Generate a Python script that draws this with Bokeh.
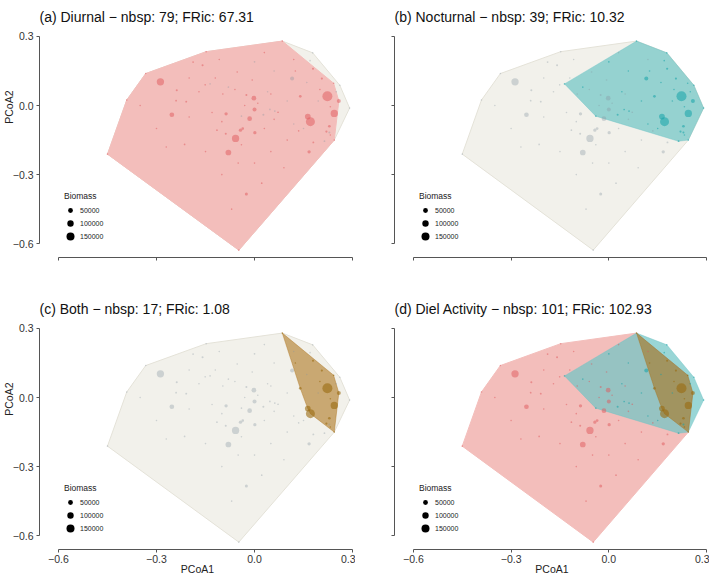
import numpy as np
from bokeh.plotting import figure
from bokeh.layouts import gridplot
from bokeh.models import (ColumnDataSource, FixedTicker, CustomJSTickFormatter,
                          Legend, LegendItem, Range1d, Title)
from bokeh.embed import file_html
from bokeh.resources import INLINE

# ---------------- data (PCoA coordinates and biomass) ----------------
# species active only during the day
diur_x = [-0.450, -0.391, -0.333, -0.148, -0.048, -0.288, -0.253, -0.238, -0.240, -0.209,
          -0.159, -0.188, -0.087, -0.058, -0.080, -0.043, -0.036, -0.015, 0.000, -0.002,
          0.001, -0.025, -0.088, -0.025, 0.022, -0.214, -0.115, 0.167, 0.072, -0.097,
          -0.053, -0.007, -0.108, -0.350, -0.300, -0.200, -0.150, -0.100, -0.050, 0.050,
          0.100, 0.030, -0.120, -0.200, -0.060, 0.050, 0.030, -0.270, -0.130, 0.000,
          0.090, -0.070, -0.170, 0.120, 0.010, -0.040, -0.100, 0.060, -0.030, -0.151,
          0.135, 0.180]
diur_y = [-0.211, 0.024, 0.139, 0.234, -0.628, 0.103, -0.040, 0.067, 0.021, 0.017,
          0.175, 0.189, -0.036, -0.143, -0.204, -0.107, -0.100, -0.057, -0.017, 0.032,
          -0.118, 0.046, -0.122, -0.384, -0.337, -0.169, -0.107, -0.201, -0.029, 0.050,
          0.146, 0.111, 0.200, 0.000, -0.100, -0.050, -0.200, -0.300, -0.250, -0.200,
          -0.150, -0.100, 0.120, 0.120, 0.070, 0.050, 0.230, -0.180, -0.030, -0.250,
          -0.270, -0.450, 0.060, 0.200, 0.010, -0.170, -0.070, -0.060, 0.000, 0.090,
          -0.110, -0.160]
diur_biomass = [500, 500, 500, 500, 500, 121500, 40000, 2100, 1000, 1500,
                2100, 800, 14400, 121500, 66000, 14400, 7300, 40000, 25600, 40000,
                14400, 2100, 2100, 10600, 800, 800, 800, 14400, 800, 500,
                500, 500, 500, 500, 500, 500, 500, 500, 500, 500,
                500, 500, 500, 500, 500, 500, 500, 500, 500, 500,
                500, 500, 500, 500, 500, 500, 500, 500, 500, 500,
                500, 1500]

# species active only at night
noct_x = [0.178, 0.261, 0.291, -0.136, -0.040, 0.115, 0.000, 0.170, 0.229, 0.214,
          0.027, 0.160, 0.060, 0.100, 0.040, 0.195, 0.250, 0.120, -0.080, 0.047,
          0.062, 0.150]
noct_y = [0.229, 0.088, -0.011, 0.094, -0.046, 0.118, 0.190, 0.195, -0.117, -0.155,
          -0.040, 0.100, 0.150, 0.020, 0.060, 0.020, 0.060, -0.080, 0.080, -0.017,
          -0.024, -0.100]
noct_biomass = [500, 500, 500, 500, 500, 25600, 800, 500, 2100, 1000,
                2100, 500, 500, 500, 500, 500, 500, 500, 500, 800,
                800, 500]

# species active both day and night
both_x = [0.085, 0.242, 0.244, 0.140, 0.223, 0.244, 0.258, 0.163, 0.171, 0.179,
          0.206, 0.229, 0.220, 0.200, 0.232, 0.232, 0.125]
both_y = [0.280, 0.097, -0.150, 0.040, 0.040, -0.034, 0.020, -0.048, -0.070, 0.160,
          0.117, -0.090, -0.113, 0.070, -0.005, -0.128, 0.150]
both_biomass = [500, 500, 500, 7300, 253000, 121500, 25600, 66000, 198700, 3000,
                3000, 7300, 3000, 500, 500, 500, 500]

legend_biomass = [50000, 100000, 150000]
axis_ticks = [-0.6, -0.3, 0.0, 0.3]
x_title = "PCoA1"
y_title = "PCoA2"
titles = ["(a) Diurnal \u2212 nbsp: 79; FRic: 67.31",
          "(b) Nocturnal \u2212 nbsp: 39; FRic: 10.32",
          "(c) Both \u2212 nbsp: 17; FRic: 1.08",
          "(d) Diel Activity \u2212 nbsp: 101; FRic: 102.93"]

# ---------------- styling ----------------
FONT = "Liberation Sans"
PINK = "#F3BEBB"
TEAL = "#6EC4C5"
BROWN = "#A96F14"
BEIGE = "#F2F1EB"
GREY_PT = "#8796A0"
PINK_PT = "#E0575B"
TEAL_PT = "#14A3A8"
BROWN_PT = "#9A6A10"
X0, X1 = -0.658, 0.309
Y0, Y1 = -0.660, 0.326


def size_of(b):
    return 1.2 + 0.0175 * np.sqrt(np.asarray(b, dtype=float))


def hull(xs, ys):
    pts = sorted(set(zip(xs, ys)))

    def cross(o, a, b):
        return (a[0] - o[0]) * (b[1] - o[1]) - (a[1] - o[1]) * (b[0] - o[0])
    lower = []
    for pt in pts:
        while len(lower) >= 2 and cross(lower[-2], lower[-1], pt) <= 0:
            lower.pop()
        lower.append(pt)
    upper = []
    for pt in reversed(pts):
        while len(upper) >= 2 and cross(upper[-2], upper[-1], pt) <= 0:
            upper.pop()
        upper.append(pt)
    h = lower[:-1] + upper[:-1]
    return [q[0] for q in h], [q[1] for q in h]


def src(xs, ys, bs):
    return ColumnDataSource(data=dict(x=list(xs), y=list(ys), size=list(size_of(bs))))


all_x = diur_x + noct_x + both_x
all_y = diur_y + noct_y + both_y
dn_x, dn_y, dn_b = diur_x + both_x, diur_y + both_y, diur_biomass + both_biomass
nn_x, nn_y, nn_b = noct_x + both_x, noct_y + both_y, noct_biomass + both_biomass


def make_panel(title, width, height, bottom, xlabels, ylabels):
    p = figure(width=width, height=height, x_range=Range1d(X0, X1),
               y_range=Range1d(Y0, Y1), output_backend="svg",
               toolbar_location=None, title=title,
               min_border_left=39, min_border_right=0,
               min_border_top=28, min_border_bottom=bottom)
    p.grid.visible = False
    p.outline_line_color = None
    p.title.text_font = FONT
    p.title.text_font_size = "14px"
    p.title.text_font_style = "normal"
    p.title.text_color = "#111111"
    p.title.align = "left"
    p.title.standoff = 12
    fmt_num = CustomJSTickFormatter(
        code="return (tick < -1e-9 ? '\u2212' : '') + Math.abs(tick).toFixed(1);")
    fmt_none = CustomJSTickFormatter(code="return '';")
    for ax, show, stand in ((p.xaxis[0], xlabels, 2), (p.yaxis[0], ylabels, 3)):
        ax.ticker = FixedTicker(ticks=axis_ticks)
        ax.bounds = (-0.6, 0.3)
        ax.axis_line_color = "#555555"
        ax.axis_line_width = 1
        ax.major_tick_line_color = "#555555"
        ax.major_tick_out = 3
        ax.major_tick_in = 0
        ax.minor_tick_line_color = None
        ax.major_label_text_font = FONT
        ax.major_label_text_font_size = "10.5px"
        ax.major_label_text_color = "#333333"
        ax.major_label_standoff = stand
        ax.axis_label_text_font = FONT
        ax.axis_label_text_font_size = "10.5px"
        ax.axis_label_text_font_style = "normal"
        ax.axis_label_text_color = "#222222"
        ax.formatter = fmt_num if show else fmt_none
    if xlabels:
        p.xaxis[0].axis_label = x_title
        p.xaxis[0].axis_label_standoff = -3
    if ylabels:
        # y title placed level with the 0.0 tick, as in the original
        p.add_layout(Title(text=y_title, align="right", offset=60, standoff=-10,
                           text_font=FONT, text_font_size="10.5px",
                           text_font_style="normal", text_color="#222222"), "left")
    return p


def add_legend(p):
    dummy = ColumnDataSource(data=dict(x=[np.nan], y=[np.nan]))
    r = p.scatter("x", "y", source=dummy, size=5, fill_color="black", line_color=None)
    boxes = [12, 16, 20]
    locs = [(25, 41), (23, 26), (21, 11)]
    stand = [4, 2, 0]
    for i, b in enumerate(legend_biomass):
        leg = Legend(items=[LegendItem(label=str(b), renderers=[r])],
                     location=locs[i], glyph_width=boxes[i], glyph_height=boxes[i],
                     label_standoff=stand[i], padding=0, margin=0, spacing=0,
                     label_height=boxes[i], border_line_color=None,
                     background_fill_alpha=0, label_text_font=FONT,
                     label_text_font_size="7px", label_text_color="#222222")
        if i == 0:
            leg.title = "Biomass"
            leg.title_text_font = FONT
            leg.title_text_font_size = "8.5px"
            leg.title_text_font_style = "normal"
            leg.title_text_color = "#222222"
            leg.title_standoff = 3
        p.add_layout(leg)


def add_points(p, xs, ys, bs, color, alpha):
    p.scatter("x", "y", source=src(xs, ys, bs), size="size", fill_color=color,
              fill_alpha=alpha, line_color=None)


fx, fy = hull(all_x, all_y)
dx, dy = hull(dn_x, dn_y)
nx, ny = hull(nn_x, nn_y)
bx, by = hull(both_x, both_y)

# (a) diurnal
pa = make_panel(titles[0], 355, 292, 35, False, True)
pa.patch(fx, fy, fill_color=BEIGE, line_color="#E4E2D8", line_width=1)
pa.patch(dx, dy, fill_color=PINK, line_color=PINK)
add_points(pa, noct_x, noct_y, noct_biomass, GREY_PT, 0.35)
add_points(pa, dn_x, dn_y, dn_b, PINK_PT, 0.5)
add_legend(pa)

# (b) nocturnal
pb = make_panel(titles[1], 354, 292, 35, False, False)
pb.patch(fx, fy, fill_color=BEIGE, line_color="#E4E2D8", line_width=1)
pb.patch(nx, ny, fill_color=TEAL, fill_alpha=0.7, line_color=TEAL, line_alpha=0.4)
add_points(pb, diur_x, diur_y, diur_biomass, GREY_PT, 0.35)
add_points(pb, nn_x, nn_y, nn_b, TEAL_PT, 0.55)
add_legend(pb)

# (c) both
pc = make_panel(titles[2], 355, 286, 29, True, True)
pc.patch(fx, fy, fill_color=BEIGE, line_color="#E4E2D8", line_width=1)
pc.patch(bx, by, fill_color=BROWN, fill_alpha=0.56, line_color=BROWN, line_alpha=0.4)
add_points(pc, diur_x + noct_x, diur_y + noct_y, diur_biomass + noct_biomass, GREY_PT, 0.35)
add_points(pc, both_x, both_y, both_biomass, BROWN_PT, 0.6)
add_legend(pc)

# (d) diel activity
pd_ = make_panel(titles[3], 354, 286, 29, True, False)
pd_.patch(dx, dy, fill_color=PINK, line_color=PINK)
pd_.patch(nx, ny, fill_color=TEAL, fill_alpha=0.7, line_color=TEAL, line_alpha=0.4)
pd_.patch(bx, by, fill_color=BROWN, fill_alpha=0.56, line_color=BROWN, line_alpha=0.4)
add_points(pd_, diur_x, diur_y, diur_biomass, PINK_PT, 0.5)
add_points(pd_, noct_x, noct_y, noct_biomass, TEAL_PT, 0.55)
add_points(pd_, both_x, both_y, both_biomass, BROWN_PT, 0.6)
add_legend(pd_)

grid = gridplot([[pa, pb], [pc, pd_]], toolbar_location=None)

open("out.html", "w").write(file_html(grid, INLINE))
